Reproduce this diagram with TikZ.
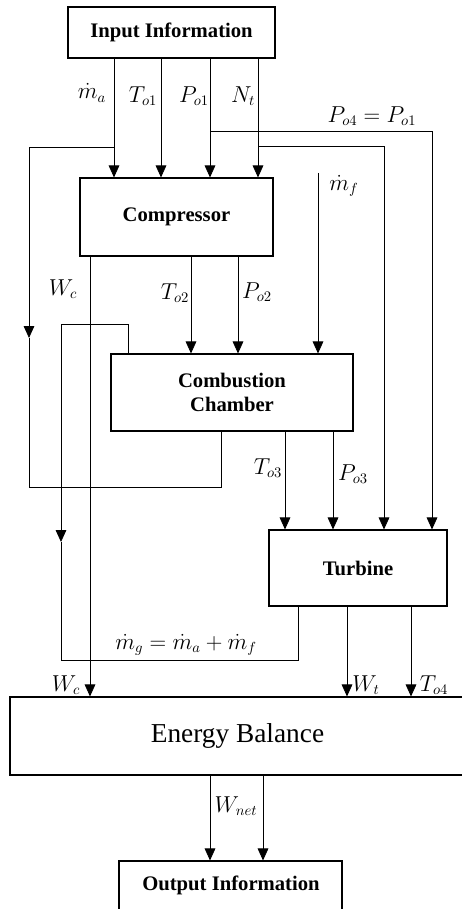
\documentclass[tikz,border=0pt]{standalone}
\usepackage{fontspec}
\setmainfont{Liberation Serif}
\usetikzlibrary{arrows.meta}
\begin{document}
\begin{tikzpicture}[x=0.75pt,y=-0.75pt,
  box/.style={draw, line width=0.8pt, inner sep=0pt, align=center,
    font=\fontsize{15.5}{18}\selectfont\bfseries},
  ln/.style={line width=0.6pt},
  arr/.style={ln, -{Triangle[width=8pt,length=9pt]}},
  lab/.style={font=\fontsize{16}{18}\selectfont, inner sep=0pt}]
\useasboundingbox (0,0) rectangle (461,909);
% boxes
\node[box, minimum width=155.25pt, minimum height=38.25pt] (inp) at (171.5,32.5) {Input Information};
\node[box, minimum width=144.75pt, minimum height=58.5pt] (comp) at (176.5,217) {Compressor};
\node[box, minimum width=181.5pt, minimum height=57.75pt] (cc) at (232,392.5) {Combustion\\Chamber};
\node[box, minimum width=133.5pt, minimum height=57pt] (turb) at (358,568) {Turbine};
\node[box, minimum width=341.25pt, minimum height=58.5pt, font=\fontsize{20.5}{24}\selectfont] (eb) at (237.5,736) {Energy Balance};
\node[box, minimum width=167.25pt, minimum height=40.5pt] (out) at (230.5,888) {};
\node[font=\fontsize{15.5}{18}\selectfont\bfseries] (outt) at (231,885) {Output Information};
% x positions
\coordinate (xma) at (114,0);
\coordinate (xto) at (161,0);
\coordinate (xpo) at (210,0);
\coordinate (xn) at (258,0);
\coordinate (xto2) at (191,0);
\coordinate (xpo2) at (238,0);
\coordinate (xwc) at (90,0);
\coordinate (xto3) at (285,0);
\coordinate (xpo3) at (333,0);
\coordinate (xwt) at (347,0);
\coordinate (xto4) at (411,0);
\coordinate (xw1) at (210,0);
\coordinate (xw2) at (263,0);
\coordinate (xpr) at (432,0);
\coordinate (xnr) at (384,0);
% input to compressor
\draw[arr] (inp.south -| xma) -- (comp.north -| xma);
\draw[arr] (inp.south -| xto) -- (comp.north -| xto);
\draw[arr] (inp.south -| xpo) -- (comp.north -| xpo);
\draw[arr] (inp.south -| xn) -- (comp.north -| xn);
% branches to turbine
\coordinate (bp) at (210,131);
\coordinate (bn) at (258,146);
\draw[arr] (bp) -| (turb.north -| xpr);
\draw[arr] (bn) -| (turb.north -| xnr);
% m_a branch loop to combustion chamber bottom
\coordinate (bm) at (114,147);
\coordinate (lm) at (29,338);
\coordinate (lc) at (221,487);
\draw[arr] (bm) -| (lm);
\draw[ln] (lm) |- (lc) -- (cc.south -| lc);
% fuel
\coordinate (mf) at (318,173);
\draw[arr] (mf) -- (cc.north -| mf);
% compressor to cc
\draw[arr] (comp.south -| xto2) -- (cc.north -| xto2);
\draw[arr] (comp.south -| xpo2) -- (cc.north -| xpo2);
% W_c
\draw[arr] (comp.south -| xwc) -- (eb.north -| xwc);
% gas loop
\coordinate (gl) at (61,324);
\coordinate (ga) at (61,542);
\coordinate (gt) at (128,324);
\coordinate (gc) at (298,660);
\draw[ln] (gl) -| (cc.north -| gt);
\draw[arr] (gl) -- (ga);
\draw[ln] (ga) |- (gc) -- (turb.south -| gc);
% cc to turbine
\draw[arr] (cc.south -| xto3) -- (turb.north -| xto3);
\draw[arr] (cc.south -| xpo3) -- (turb.north -| xpo3);
% turbine to energy balance
\draw[arr] (turb.south -| xwt) -- (eb.north -| xwt);
\draw[arr] (turb.south -| xto4) -- (eb.north -| xto4);
% energy balance to output
\draw[arr] (eb.south -| xw1) -- (out.north -| xw1);
\draw[arr] (eb.south -| xw2) -- (out.north -| xw2);
% labels
\node[lab] (lma) at (92,93) {$\dot{m}_a$};
\node[lab] (lto1) at (143,96) {$T_{o1}$};
\node[lab] (lpo1) at (194,96) {$P_{o1}$};
\node[lab] (lnt) at (243,96) {$N_t$};
\node[lab] (lpo4) at (372,116) {$P_{o4}=P_{o1}$};
\node[lab] (lmf) at (344,186) {$\dot{m}_f$};
\node[lab] (lwc) at (63,289) {$W_c$};
\node[lab] (lto2) at (175,293) {$T_{o2}$};
\node[lab] (lpo2) at (257,292) {$P_{o2}$};
\node[lab] (lto3) at (268,468) {$T_{o3}$};
\node[lab] (lpo3) at (353,474) {$P_{o3}$};
\node[lab] (lmg) at (186,645) {$\dot{m}_g=\dot{m}_a+\dot{m}_f$};
\node[lab] (lwc2) at (66,685) {$W_c$};
\node[lab] (lwt) at (366,685) {$W_t$};
\node[lab] (lto4) at (434,685) {$T_{o4}$};
\node[lab] (lwn) at (236,806) {$W_{net}$};
\end{tikzpicture}
\end{document}
